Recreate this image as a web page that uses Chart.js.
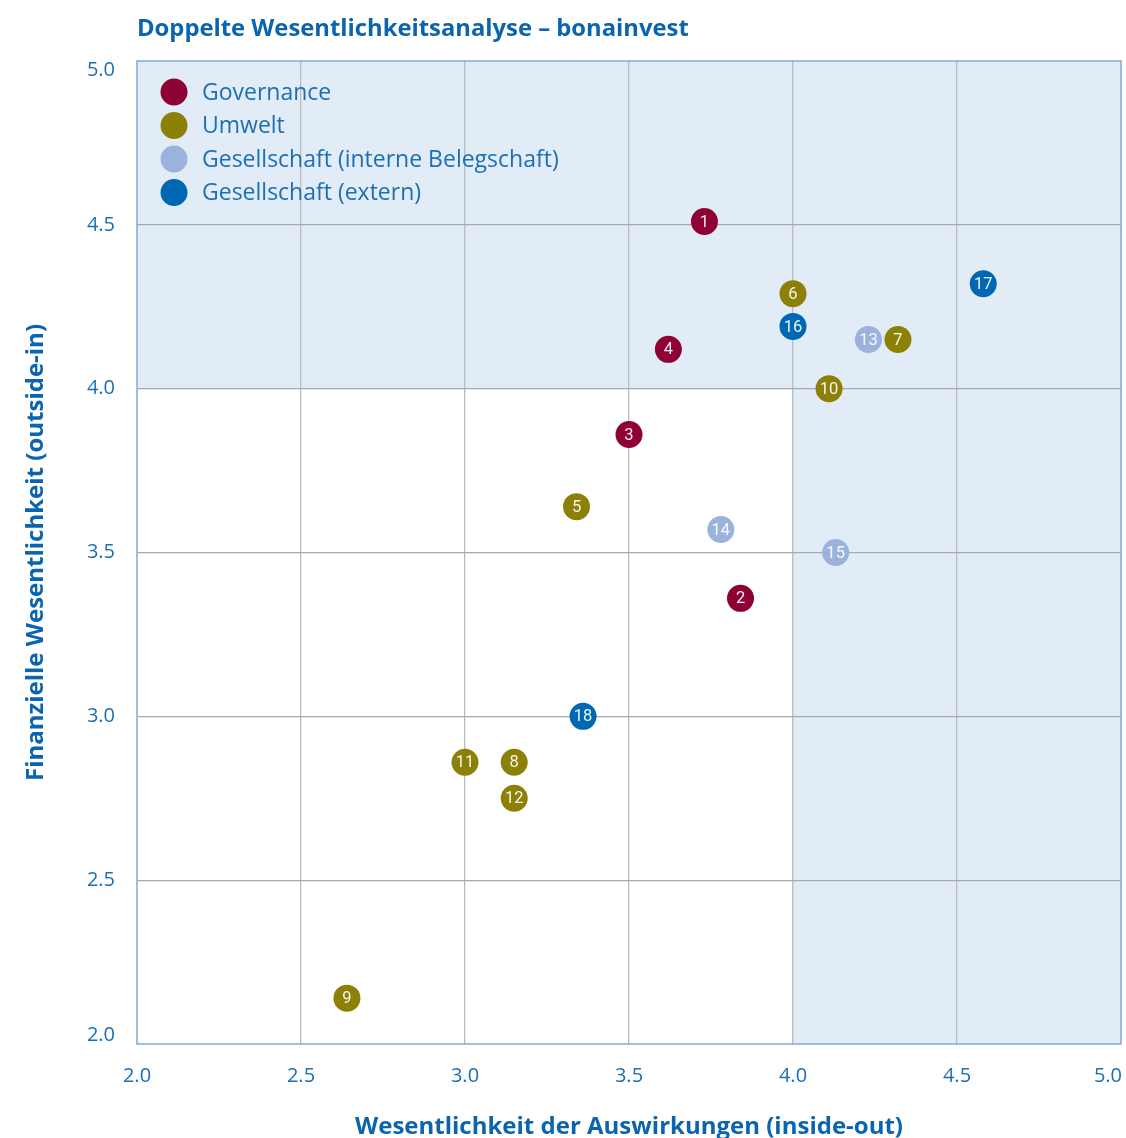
<!DOCTYPE html>
<html>
<head>
<meta charset="utf-8">
<script src="https://cdn.jsdelivr.net/npm/chart.js@4/dist/chart.umd.min.js"></script>
<style>
  html, body { margin: 0; padding: 0; background: #fff; overflow: hidden; }
  #mycanvas { display: block; }
</style>
</head>
<body>
<canvas id="mycanvas" width="1126" height="1138"></canvas>
<script>
var titleText = "Doppelte Wesentlichkeitsanalyse \u2013 bonainvest";
var xTitle = "Wesentlichkeit der Auswirkungen (inside-out)";
var yTitle = "Finanzielle Wesentlichkeit (outside-in)";

var seriesNames = ["Governance", "Umwelt", "Gesellschaft (interne Belegschaft)", "Gesellschaft (extern)"];
var seriesColors = ["#8f0034", "#8d8008", "#9bb3dc", "#0068b3"];

var govIds = [1, 2, 3, 4];
var govX = [3.73, 3.84, 3.50, 3.62];
var govY = [4.51, 3.36, 3.86, 4.12];

var umwIds = [5, 6, 7, 8, 9, 10, 11, 12];
var umwX = [3.34, 4.00, 4.32, 3.15, 2.64, 4.11, 3.00, 3.15];
var umwY = [3.64, 4.29, 4.15, 2.86, 2.14, 4.00, 2.86, 2.75];

var intIds = [13, 14, 15];
var intX = [4.23, 3.78, 4.13];
var intY = [4.15, 3.57, 3.50];

var extIds = [16, 17, 18];
var extX = [4.00, 4.58, 3.36];
var extY = [4.19, 4.32, 3.00];

var tickValues = [2.0, 2.5, 3.0, 3.5, 4.0, 4.5, 5.0];
var tickLabels = ["2.0", "2.5", "3.0", "3.5", "4.0", "4.5", "5.0"];
var threshold = 4.0;

var blue = "#1c6fb6";
var dark = "#0b65ae";
var font = "'Open Sans', Roboto, sans-serif";

function pts(xs, ys, ids) {
  var out = [];
  for (var i = 0; i < xs.length; i++) out.push({x: xs[i], y: ys[i], id: ids[i]});
  return out;
}

var allSeries = [
  pts(govX, govY, govIds),
  pts(umwX, umwY, umwIds),
  pts(intX, intY, intIds),
  pts(extX, extY, extIds)
];

var datasets = [];
for (var s = 0; s < allSeries.length; s++) {
  datasets.push({
    label: seriesNames[s],
    data: allSeries[s],
    backgroundColor: seriesColors[s],
    borderColor: seriesColors[s],
    borderWidth: 0,
    pointRadius: 13.5,
    pointHoverRadius: 13.5
  });
}

// light blue zones, frame, tick labels, title, legend and point numbers
var decor = {
  id: "decor",
  beforeDraw: function(chart) {
    var c = chart.ctx, a = chart.chartArea;
    var xs = chart.scales.x, ys = chart.scales.y;
    var tx = xs.getPixelForValue(threshold), ty = ys.getPixelForValue(threshold);
    c.save();
    c.fillStyle = "#e2ecf6";
    c.fillRect(a.left, a.top, a.right - a.left, ty - a.top);
    c.fillRect(tx, ty, a.right - tx, a.bottom - ty);
    c.restore();
  },
  beforeDatasetsDraw: function(chart) {
    var c = chart.ctx, a = chart.chartArea;
    var xs = chart.scales.x, ys = chart.scales.y;
    c.save();
    c.strokeStyle = "#7eaad8";
    c.lineWidth = 1.5;
    c.strokeRect(a.left, a.top, a.right - a.left, a.bottom - a.top);

    // tick labels (ends pulled inside like the original)
    c.fillStyle = blue;
    c.font = "20px " + font;
    c.textBaseline = "middle";
    var last = tickValues.length - 1;
    for (var i = 0; i <= last; i++) {
      var py = ys.getPixelForValue(tickValues[i]);
      if (i === 0) py -= 9;
      if (i === last) py += 9;
      c.textAlign = "right";
      c.fillText(tickLabels[i], a.left - 22, py);
      var px = xs.getPixelForValue(tickValues[i]);
      c.textAlign = i === last ? "right" : "center";
      c.fillText(tickLabels[i], px + (i === last ? 1 : 0), a.bottom + 32);
    }
    c.restore();
  },
  afterDatasetsDraw: function(chart) {
    var c = chart.ctx, a = chart.chartArea;
    c.save();
    // numbers in the dots
    c.fillStyle = "rgba(255,255,255,0.92)";
    c.font = "16.5px Roboto, sans-serif";
    c.textAlign = "center";
    c.textBaseline = "middle";
    chart.data.datasets.forEach(function(ds, i) {
      var meta = chart.getDatasetMeta(i);
      meta.data.forEach(function(el, j) {
        c.fillText(String(ds.data[j].id), el.x, el.y + 1);
      });
    });
    // legend
    c.textAlign = "left";
    c.font = "23px " + font;
    for (var k = 0; k < seriesNames.length; k++) {
      var ly = a.top + 31 + k * 33.5;
      c.fillStyle = seriesColors[k];
      c.beginPath();
      c.arc(a.left + 37, ly, 13.5, 0, Math.PI * 2);
      c.fill();
      c.fillStyle = blue;
      c.fillText(seriesNames[k], a.left + 65, ly + 1);
    }
    // title
    c.font = "bold 23.8px " + font;
    c.fillStyle = dark;
    c.fillText(titleText, a.left, 29);
    c.restore();
  }
};

var ctx = document.getElementById("mycanvas");

var edge = function(context) {
  var v = context.tick ? context.tick.value : null;
  return v === tickValues[0] || v === tickValues[tickValues.length - 1];
};

var chart = new Chart(ctx, {
  type: "scatter",
  data: {datasets: datasets},
  options: {
    responsive: false,
    animation: false,
    devicePixelRatio: 1,
    layout: {autoPadding: false, padding: {top: 61, right: 5, left: 0, bottom: 0}},
    plugins: {
      legend: {display: false},
      tooltip: {enabled: false},
      title: {display: false}
    },
    scales: {
      x: {
        type: "linear",
        min: tickValues[0],
        max: tickValues[tickValues.length - 1],
        ticks: {stepSize: 0.5, display: false},
        grid: {
          color: function(c) { return edge(c) ? "rgba(0,0,0,0)" : "#b9bcc1"; },
          lineWidth: 1.3,
          drawTicks: false
        },
        border: {display: false},
        title: {
          display: true,
          text: xTitle,
          color: dark,
          font: {family: font, size: 24, weight: "bold"},
          padding: {top: 0, bottom: -4}
        },
        afterFit: function(scale) {
          scale.height = 94;
        }
      },
      y: {
        type: "linear",
        min: tickValues[0],
        max: tickValues[tickValues.length - 1],
        ticks: {stepSize: 0.5, display: false},
        grid: {
          color: function(c) { return edge(c) ? "rgba(0,0,0,0)" : "#a6a9ae"; },
          lineWidth: 1.3,
          drawTicks: false
        },
        border: {display: false},
        title: {
          display: true,
          text: yTitle,
          color: dark,
          font: {family: font, size: 24, weight: "bold"},
          padding: {top: 22, bottom: 0}
        },
        afterFit: function(scale) {
          scale.width = 137;
        }
      }
    }
  },
  plugins: [decor]
});
</script>
</body>
</html>
